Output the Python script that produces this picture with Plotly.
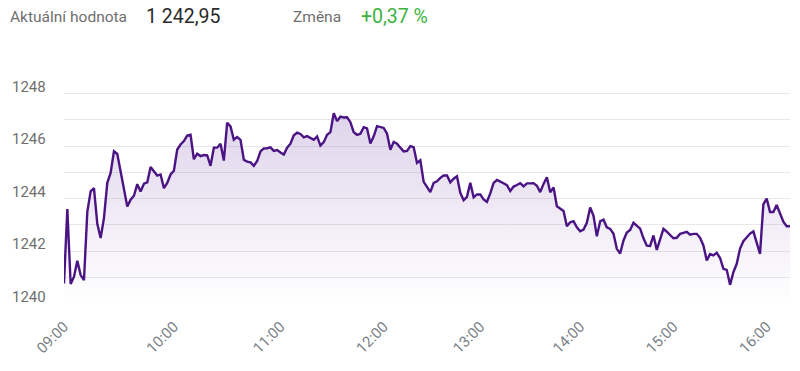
import plotly.graph_objects as go

# Index-level price readings (ordinal time axis, one sample per step)
price = [
    1240.77, 1243.6, 1240.75, 1241.03, 1241.64, 1241.09, 1240.9, 1243.5, 1244.28, 1244.4,
    1243.04, 1242.5, 1243.26, 1244.6, 1244.98, 1245.8, 1245.7, 1245.0, 1244.28, 1243.7,
    1243.96, 1244.11, 1244.55, 1244.27, 1244.57, 1244.62, 1245.2, 1245.04, 1244.88, 1244.92,
    1244.4, 1244.6, 1244.92, 1245.06, 1245.87, 1246.06, 1246.19, 1246.4, 1246.43, 1245.5,
    1245.71, 1245.62, 1245.66, 1245.65, 1245.25, 1245.94, 1245.94, 1246.09, 1245.45, 1246.89,
    1246.75, 1246.24, 1246.34, 1246.24, 1245.48, 1245.41, 1245.38, 1245.25, 1245.43, 1245.8,
    1245.91, 1245.92, 1245.95, 1245.82, 1245.85, 1245.76, 1245.68, 1245.94, 1246.09, 1246.41,
    1246.51, 1246.46, 1246.33, 1246.38, 1246.32, 1246.24, 1246.37, 1246.02, 1246.15, 1246.43,
    1246.53, 1247.25, 1246.95, 1247.12, 1247.09, 1247.1, 1246.91, 1246.53, 1246.43, 1246.47,
    1246.72, 1246.67, 1246.1, 1246.37, 1246.76, 1246.72, 1246.69, 1246.47, 1245.86, 1246.16,
    1246.09, 1245.94, 1245.8, 1245.82, 1246.0, 1245.96, 1245.36, 1245.46, 1244.64, 1244.45,
    1244.25, 1244.6, 1244.66, 1244.79, 1244.88, 1244.88, 1244.62, 1244.76, 1244.85, 1244.22,
    1243.94, 1244.07, 1244.6, 1244.05, 1244.16, 1244.16, 1243.97, 1243.88, 1244.2, 1244.6,
    1244.71, 1244.65, 1244.58, 1244.51, 1244.29, 1244.46, 1244.52, 1244.59, 1244.47, 1244.58,
    1244.58, 1244.59, 1244.49, 1244.25, 1244.56, 1244.81, 1244.24, 1244.43, 1243.71, 1243.61,
    1243.53, 1242.95, 1243.1, 1243.14, 1242.91, 1242.76, 1242.82, 1243.08, 1243.66, 1243.35,
    1242.57, 1243.14, 1243.2, 1242.91, 1242.85, 1242.66, 1242.09, 1241.91, 1242.41, 1242.71,
    1242.81, 1243.08, 1242.95, 1242.86, 1242.49, 1242.21, 1242.2, 1242.6, 1242.05, 1242.44,
    1242.85, 1242.74, 1242.61, 1242.49, 1242.51, 1242.66, 1242.7, 1242.74, 1242.63, 1242.66,
    1242.66, 1242.51, 1242.22, 1241.65, 1241.89, 1241.84, 1241.94, 1241.74, 1241.33, 1241.29,
    1240.72, 1241.2, 1241.52, 1242.1, 1242.38, 1242.53, 1242.67, 1242.75, 1242.35, 1241.9,
    1243.78, 1244.0, 1243.49, 1243.49, 1243.76, 1243.4, 1243.12, 1242.95, 1242.95,
]
sample_index = list(range(len(price)))

hour_tick_index = [0, 33, 65, 96, 125, 155, 183, 211]
hour_tick_labels = ["09:00", "10:00", "11:00", "12:00", "13:00", "14:00", "15:00", "16:00"]

y_grid_values = [1240, 1241, 1242, 1243, 1244, 1245, 1246, 1247, 1248, 1249]
y_label_values = [1240, 1242, 1244, 1246, 1248]
y_label_texts = ["1240", "1242", "1244", "1246", "1248"]

header_current_label = "Aktuální hodnota"
header_current_value = "1 242,95"
header_change_label = "Změna"
header_change_value = "+0,37 %"

LINE = "#4a1484"
FONT = "Roboto, Arial, sans-serif"

fig = go.Figure()
fig.add_trace(go.Scatter(
    x=sample_index, y=price, mode="lines",
    line=dict(color=LINE, width=2.4),
    fill="tozeroy",
    fillgradient=dict(
        type="vertical",
        colorscale=[[0, "rgba(106,60,160,0.0)"], [1, "rgba(106,60,160,0.22)"]],
        start=1240, stop=1247.3,
    ),
    hoverinfo="skip",
))

W, H = 800, 371
ml, mr, mt, mb = 64, 10, 67, 67
pw, ph = W - ml - mr, H - mt - mb


def px(x):
    return (x - ml) / pw


def py(y):
    return (H - mb - y) / ph


annots = [
    dict(text=header_current_label, x=px(8), font=dict(size=15.5, color="#6f6f6f")),
    dict(text=header_current_value, x=px(144), font=dict(size=19.5, color="#2b2b2b")),
    dict(text=header_change_label, x=px(291), font=dict(size=15.5, color="#6f6f6f")),
    dict(text=header_change_value, x=px(359), font=dict(size=19.5, color="#3db33f")),
]
for a in annots:
    fig.add_annotation(xref="paper", yref="paper", y=py(17), xanchor="left",
                       yanchor="middle", showarrow=False, font_family=FONT, **a)

# y-axis labels sit slightly above their grid lines
for v, t in zip(y_label_values, y_label_texts):
    fig.add_annotation(xref="paper", yref="y", x=px(48), y=v, yshift=7,
                       xanchor="right", yanchor="middle", showarrow=False, text=t,
                       font=dict(family=FONT, size=15, color="#6f6f6f"))

fig.update_layout(
    width=W, height=H,
    margin=dict(l=ml, r=mr, t=mt, b=mb, autoexpand=False),
    paper_bgcolor="white", plot_bgcolor="white",
    showlegend=False,
    font=dict(family=FONT),
    hovermode=False,
)
fig.update_xaxes(
    range=[0, 218], tickmode="array", tickvals=hour_tick_index, ticktext=hour_tick_labels,
    tickangle=-45, showgrid=False, zeroline=False, showline=False, ticks="",
    ticklabelstandoff=10, automargin=False,
    tickfont=dict(size=15, color="#7a7f87"),
)
fig.update_yaxes(
    range=[1239.99, 1249.01], tickmode="array", tickvals=y_grid_values,
    showticklabels=False,
    showgrid=True, gridcolor="#e8e8e8", gridwidth=1, zeroline=False, showline=False,
    ticks="", automargin=False,
)

fig.write_html("out.html", config={"displayModeBar": False},
               post_script="document.body.style.margin='0';")
